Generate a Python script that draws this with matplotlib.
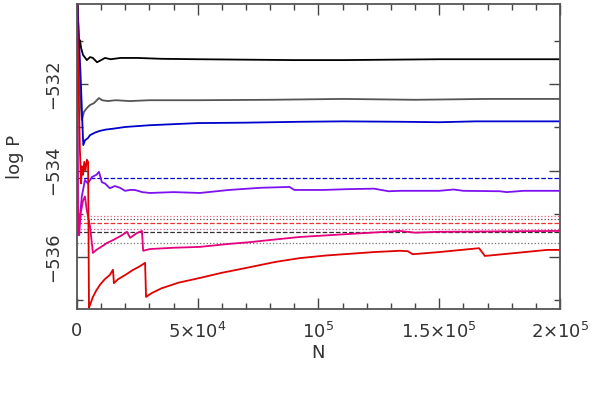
import numpy as np
import matplotlib
matplotlib.use('Agg')
import matplotlib.pyplot as plt

plt.rcParams['mathtext.default'] = 'regular'

# solid curves: N and log P
n_black = [0, 800, 1250, 1700, 2500, 4100, 5400, 6600, 8300, 10000, 11600, 14000, 18000,
           25000, 35000, 50000, 70000, 90000, 110000, 130000, 150000, 170000, 200000]
p_black = [-529.5, -531.09, -530.98, -531.16, -531.32, -531.44, -531.37, -531.39, -531.49,
           -531.44, -531.39, -531.42, -531.39, -531.39, -531.41, -531.42, -531.43, -531.44,
           -531.44, -531.43, -531.42, -531.42, -531.42]

n_gray = [0, 1200, 2000, 2900, 4100, 5400, 7000, 9100, 10400, 12800, 16000, 22000, 30000,
          50000, 80000, 110000, 140000, 170000, 200000]
p_gray = [-530.0, -532.2, -532.83, -532.64, -532.55, -532.48, -532.44, -532.32, -532.37,
          -532.39, -532.37, -532.39, -532.37, -532.37, -532.36, -532.34, -532.36, -532.34, -532.34]

n_blue = [0, 1500, 2300, 2600, 3300, 4500, 5400, 7500, 9500, 12000, 15000, 20000, 30000,
          50000, 70000, 92000, 110000, 135000, 150000, 165000, 200000]
p_blue = [-530.0, -531.8, -533.0, -533.41, -533.30, -533.25, -533.18, -533.12, -533.08,
          -533.05, -533.03, -532.99, -532.95, -532.90, -532.89, -532.87, -532.86, -532.87,
          -532.88, -532.86, -532.86]

n_purple = [0, 400, 1200, 2000, 3300, 4500, 6200, 8000, 9100, 10300, 11600, 13600, 15700,
            17800, 19900, 22000, 24000, 27000, 30200, 40000, 50900, 63000, 76000, 88000,
            90000, 102000, 113000, 123000, 129000, 134000, 150000, 156000, 160000, 175000,
            178000, 185000, 200000]
p_purple = [-530.0, -535.5, -535.1, -534.6, -534.22, -534.30, -534.15, -534.10, -534.03,
            -534.27, -534.30, -534.41, -534.36, -534.40, -534.47, -534.45, -534.45, -534.50,
            -534.52, -534.50, -534.52, -534.45, -534.40, -534.38, -534.45, -534.45, -534.43,
            -534.42, -534.48, -534.47, -534.47, -534.44, -534.47, -534.48, -534.50, -534.47,
            -534.47]

n_magenta = [0, 400, 900, 1500, 2500, 3300, 4000, 5400, 6600, 8000, 10000, 12400, 15000,
             18000, 20700, 22000, 24800, 26900, 27400, 30200, 40000, 50900, 63000, 71600,
             80000, 92300, 113000, 133700, 140000, 150000, 175000, 200000]
p_magenta = [-530.0, -534.8, -535.5, -535.0, -534.7, -534.6, -534.9, -535.3, -535.91,
             -535.84, -535.77, -535.68, -535.61, -535.52, -535.42, -535.56, -535.45, -535.40,
             -535.86, -535.82, -535.79, -535.77, -535.70, -535.66, -535.61, -535.54, -535.47,
             -535.40, -535.44, -535.42, -535.41, -535.40]

n_red = [0, 400, 800, 1200, 1700, 2000, 2500, 3000, 3500, 4100, 4600, 4970, 5500, 6600,
         8000, 9500, 11500, 13600, 14900, 15300, 17000, 20000, 23000, 26000, 28200, 28600,
         31000, 35000, 42000, 50900, 60000, 71600, 82000, 92300, 103000, 113000, 123000,
         133700, 137000, 139000, 150000, 166500, 168900, 180000, 194600, 200000]
p_red = [-529.5, -531.5, -532.4, -533.5, -534.3, -533.9, -534.1, -533.8, -534.0, -533.75,
         -533.8, -537.18, -537.10, -536.93, -536.78, -536.65, -536.52, -536.42, -536.30,
         -536.61, -536.52, -536.42, -536.31, -536.22, -536.14, -536.93, -536.84, -536.73,
         -536.60, -536.49, -536.37, -536.24, -536.12, -536.03, -535.97, -535.93, -535.89,
         -535.86, -535.87, -535.94, -535.89, -535.80, -535.98, -535.92, -535.84, -535.84]

# reference levels
h_levels = [-534.17, -535.05, -535.13, -535.21, -535.36, -535.42, -535.67]
h_colors = ['#0000cc', '#f06080', '#604050', '#f03030', '#e0508a', '#303030', '#707070']
h_styles = ['--', ':', ':', '--', ':', '--', ':']

fig = plt.figure(figsize=(6, 3.94), dpi=100)
ax = fig.add_axes([0.1283, 0.2157, 0.805, 0.7741])

for lv, c, ls in zip(h_levels, h_colors, h_styles):
    ax.axhline(lv, color=c, ls=ls, lw=0.9)

ax.plot(n_black, p_black, color='black', lw=1.3)
ax.plot(n_gray, p_gray, color='#555555', lw=1.3)
ax.plot(n_blue, p_blue, color='#0000cc', lw=1.3)
ax.plot(n_purple, p_purple, color='#7f10f0', lw=1.3)
ax.plot(n_magenta, p_magenta, color='#e6007e', lw=1.3)
ax.plot(n_red, p_red, color='#e00000', lw=1.3)

ax.set_xlim(0, 200000)
ax.set_ylim(-537.21, -530.14)

ax.set_xticks([0, 50000, 100000, 150000, 200000])
ax.set_xticklabels(['0', r'5$\times$10$^4$', '10$^5$', r'1.5$\times$10$^5$', r'2$\times$10$^5$'],
                   fontsize=13, color='#333333')
ax.set_xticks(np.arange(0, 200001, 10000), minor=True)
ax.set_yticks([-536, -534, -532])
ax.set_yticklabels(['\u2212536', '\u2212534', '\u2212532'], rotation=90, va='center',
                   fontsize=13, color='#333333')
ax.set_yticks([-537, -535, -533, -531], minor=True)

ax.tick_params(which='both', direction='in', top=True, right=True, color='#444444', width=1)
ax.tick_params(which='major', length=8)
ax.tick_params(which='minor', length=4)
ax.tick_params(axis='x', which='major', pad=9)
ax.tick_params(axis='y', which='major', pad=11)

for s in ax.spines.values():
    s.set_color('#555555')
    s.set_linewidth(1.3)

ax.set_xlabel('N', fontsize=13, color='#333333', labelpad=2)
ax.set_ylabel('log P', fontsize=13, color='#333333', labelpad=14)

fig.savefig('out.png', dpi=100)
